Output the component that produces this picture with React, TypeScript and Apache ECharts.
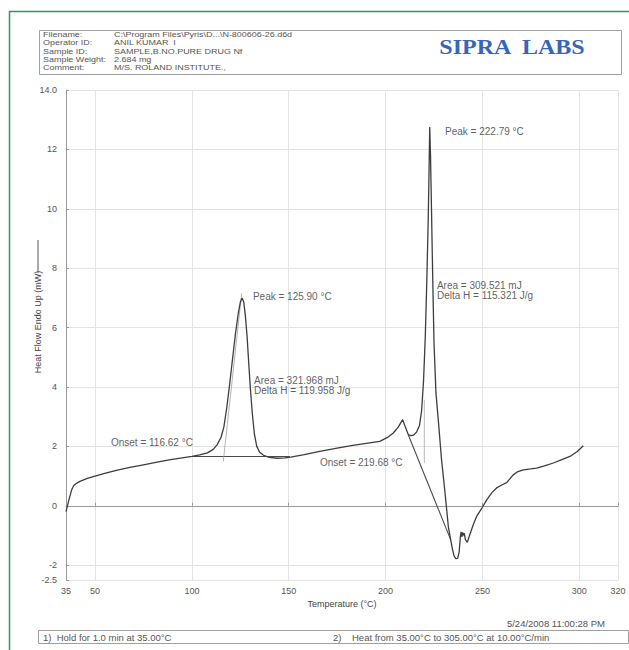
import React, { useEffect, useRef } from "react";
import * as echarts from "echarts";

// DSC curve: temperature (°C) and heat flow (mW)
const temperature = [
  35.0, 36.5, 38.0, 39.0, 40.5, 42.5, 46, 50, 55, 61, 68, 75, 82, 89, 95, 100, 104, 108, 111, 113, 115,
  116.5, 118, 119.5, 121, 122.5, 124, 125, 125.9, 126.8, 127.6, 128.5, 129.3, 130.2, 131.2, 132.3,
  133.5, 135, 137, 140, 144, 148, 151, 158, 166, 175, 183, 190, 197, 201, 204, 206.5, 208.8, 210.2,
  211.7, 213, 214.5, 216, 217.5, 218.6, 219.6, 220.5, 221.3, 222.0, 222.5, 222.79, 223.2, 223.7,
  224.3, 225.0, 226.0, 227.2, 228.9, 230.7, 232.4, 233.6, 234.5, 235.3, 236.2, 237.2, 238.0, 238.6,
  239.0, 239.4, 239.8, 240.2, 240.6, 241.2, 242.2, 243.6, 245.5, 247, 250, 252.2, 255, 257.3, 260,
  262.5, 265.9, 268, 271.1, 275, 278, 282, 286.6, 291, 295.2, 299, 302.1,
];
const heatFlow = [
  -0.2, 0.2, 0.55, 0.68, 0.76, 0.83, 0.92, 1.0, 1.09, 1.19, 1.29, 1.38, 1.47, 1.55, 1.61, 1.66, 1.71,
  1.78, 1.9, 2.05, 2.3, 2.65, 3.3, 4.1, 4.95, 5.8, 6.5, 6.85, 7.0, 6.85, 6.4, 5.7, 4.85, 3.95, 3.1,
  2.4, 2.0, 1.8, 1.7, 1.63, 1.6, 1.61, 1.64, 1.72, 1.83, 1.94, 2.03, 2.1, 2.17, 2.3, 2.45, 2.65, 2.9,
  2.65, 2.4, 2.36, 2.38, 2.48, 2.7, 3.2, 4.2, 5.7, 7.6, 9.6, 11.5, 12.75, 11.8, 10.0, 7.8, 5.5, 3.8,
  2.9, 1.55, 0.43, -0.7, -1.14, -1.45, -1.68, -1.78, -1.77, -1.55, -1.05, -0.88, -1.05, -0.9, -1.0,
  -0.92, -1.14, -1.23, -0.95, -0.6, -0.36, -0.05, 0.2, 0.45, 0.6, 0.7, 0.78, 1.04, 1.14, 1.21, 1.24,
  1.27, 1.34, 1.44, 1.55, 1.66, 1.83, 2.02,
];

// integration baselines and onset tangents: [temperature, heat flow]
const baseline1 = [[100, 1.66], [150.6, 1.66]];
const tangent1 = [[116.2, 1.49], [125.7, 7.15]];
const baseline2 = [[211.7, 2.39], [233.6, -1.14]];
const tangent2 = [[220.0, 1.44], [220.0, 3.57]];

// annotations: text anchored at its left edge, [temperature, heat flow]
const annotationTexts = [
  "Peak = 125.90 °C",
  "Area = 321.968 mJ\nDelta H = 119.958 J/g",
  "Onset = 116.62 °C",
  "Peak = 222.79 °C",
  "Area = 309.521 mJ\nDelta H = 115.321 J/g",
  "Onset = 219.68 °C",
];
const annotationT = [131.5, 132.1, 58.2, 230.7, 226.5, 166.1];
const annotationY = [7.04, 4.04, 2.12, 12.59, 7.24, 1.45];

const xTicks = [35, 50, 100, 150, 200, 250, 300, 320];
const yTicks = [-2.5, -2, 0, 2, 4, 6, 8, 10, 12, 14];

const headerLabels = ["Filename:", "Operator ID:", "Sample ID:", "Sample Weight:", "Comment:"];
const headerValues = [
  "C:\\Program Files\\Pyris\\D...\\N-800606-26.d6d",
  "ANIL KUMAR  I",
  "SAMPLE,B.NO.PURE DRUG Nf",
  "2.684 mg",
  "M/S. ROLAND INSTITUTE.,",
];

const FONT = "'Liberation Sans', Arial, sans-serif";

export default function App() {
  const ref = useRef<HTMLDivElement>(null);

  useEffect(() => {
    if (!ref.current) return;
    const chart = echarts.init(ref.current, null, { renderer: "svg" });

    const curve = temperature.map((t, i) => [t, heatFlow[i]]);
    const annotations = annotationTexts.map((txt, i) => ({
      name: txt,
      value: [annotationT[i], annotationY[i]],
    }));

    const headerGraphics: any[] = [];
    headerLabels.forEach((lab, i) => {
      const y = 34.5 + i * 8.2;
      headerGraphics.push({
        type: "text",
        x: 43,
        y,
        scaleX: 1.18,
        style: { text: lab, font: `7.6px ${FONT}`, fill: "#555", verticalAlign: "middle" },
      });
      headerGraphics.push({
        type: "text",
        x: 114,
        y,
        scaleX: 1.18,
        style: { text: headerValues[i], font: `7.6px ${FONT}`, fill: "#555", verticalAlign: "middle" },
      });
    });

    chart.setOption({
      animation: false,
      backgroundColor: "#ffffff",
      grid: { left: 66, right: 11, top: 90, bottom: 70 },
      xAxis: {
        type: "value",
        min: 35,
        max: 320,
        name: "Temperature (°C)",
        nameLocation: "middle",
        nameGap: 14,
        nameTextStyle: { fontFamily: FONT, fontSize: 9, color: "#444" },
        axisLine: { show: true, lineStyle: { color: "#999", width: 1 } },
        axisTick: { show: true, inside: true, length: 3, customValues: xTicks, lineStyle: { color: "#999" } },
        axisLabel: {
          customValues: xTicks,
          margin: 6,
          fontFamily: FONT,
          fontSize: 9,
          color: "#555",
        },
        splitLine: { show: true, lineStyle: { color: "#e3e3e3", width: 1 } },
      },
      yAxis: {
        type: "value",
        min: -2.5,
        max: 14,
        axisLine: { show: true, lineStyle: { color: "#999", width: 1 } },
        axisTick: { show: true, inside: true, length: 3, customValues: yTicks, lineStyle: { color: "#999" } },
        axisLabel: {
          customValues: yTicks,
          margin: 9,
          fontFamily: FONT,
          fontSize: 9,
          color: "#555",
          formatter: (v: number) => (v === 14 ? "14.0" : String(v)),
        },
        splitLine: { show: true, lineStyle: { color: "#e3e3e3", width: 1 } },
      },
      series: [
        {
          type: "line",
          data: curve,
          showSymbol: false,
          symbol: "none",
          lineStyle: { color: "#3d3d3d", width: 1.3 },
          z: 5,
        },
        {
          type: "line",
          data: baseline1,
          symbol: "none",
          lineStyle: { color: "#4a4a4a", width: 1.1 },
        },
        {
          type: "line",
          data: tangent1,
          symbol: "none",
          lineStyle: { color: "#a0a0a0", width: 0.8 },
        },
        {
          type: "line",
          data: baseline2,
          symbol: "none",
          lineStyle: { color: "#4a4a4a", width: 1.1 },
        },
        {
          type: "line",
          data: tangent2,
          symbol: "none",
          lineStyle: { color: "#a8a8a8", width: 0.8 },
        },
        {
          type: "scatter",
          data: annotations,
          symbolSize: 0,
          silent: true,
          label: {
            show: true,
            position: "right",
            distance: 0,
            formatter: "{b}",
            fontFamily: FONT,
            fontSize: 10,
            lineHeight: 10,
            color: "#333",
            align: "left",
            verticalAlign: "middle",
          },
          z: 6,
        },
      ],
      graphic: [
        {
          type: "polyline",
          shape: { points: [[9.5, 650], [9.5, 11.5], [629, 11.5]] },
          style: { stroke: "#2a9a55", lineWidth: 1.5, fill: "none" },
        },
        {
          type: "rect",
          shape: { x: 39.5, y: 30.5, width: 582, height: 44 },
          style: { stroke: "#a0a0a0", lineWidth: 1, fill: "none" },
        },
        ...headerGraphics,
        {
          type: "text",
          x: 512,
          y: 47,
          scaleX: 1.2,
          style: {
            text: "SIPRA  LABS",
            font: "bold 20px 'Liberation Serif', 'Times New Roman', serif",
            fill: "#3566b8",
            align: "center",
            verticalAlign: "middle",
          },
        },
        {
          type: "text",
          x: 38,
          y: 322,
          rotation: Math.PI / 2,
          style: {
            text: "Heat Flow Endo Up (mW)",
            font: `9px ${FONT}`,
            fill: "#444",
            align: "center",
            verticalAlign: "middle",
          },
        },
        {
          type: "line",
          shape: { x1: 38, y1: 240, x2: 38, y2: 273 },
          style: { stroke: "#555", lineWidth: 1 },
        },
        {
          type: "text",
          x: 605,
          y: 623,
          style: {
            text: "5/24/2008 11:00:28 PM",
            font: `9.5px ${FONT}`,
            fill: "#555",
            align: "right",
            verticalAlign: "middle",
          },
        },
        {
          type: "rect",
          shape: { x: 38.5, y: 630.5, width: 590, height: 13 },
          style: { stroke: "#a0a0a0", lineWidth: 1, fill: "none" },
        },
        {
          type: "text",
          x: 43,
          y: 637,
          style: {
            text: "1)  Hold for 1.0 min at 35.00°C",
            font: `9.5px ${FONT}`,
            fill: "#555",
            verticalAlign: "middle",
          },
        },
        {
          type: "text",
          x: 333,
          y: 637,
          style: {
            text: "2)    Heat from 35.00°C to 305.00°C at 10.00°C/min",
            font: `9.5px ${FONT}`,
            fill: "#555",
            verticalAlign: "middle",
          },
        },
      ],
    });

    return () => chart.dispose();
  }, []);

  return (
    <div
      ref={ref}
      style={{ position: "absolute", left: 0, top: 0, width: 629, height: 650, background: "#fff" }}
    />
  );
}
